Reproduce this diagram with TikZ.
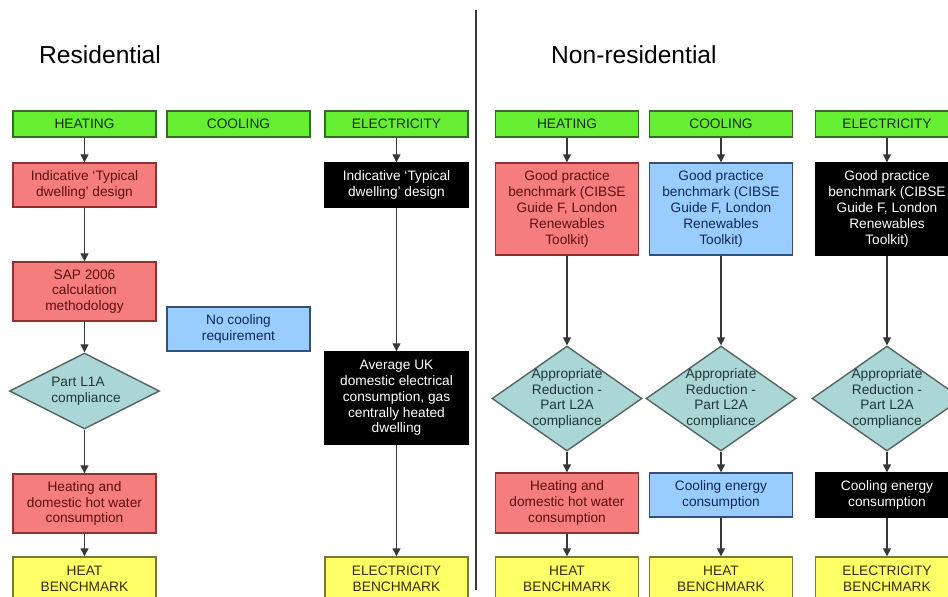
\documentclass[tikz,border=0pt]{standalone}
\usepackage{fontspec}
\setmainfont{Liberation Sans}
\usetikzlibrary{arrows.meta}
\usetikzlibrary{shapes.geometric}
\definecolor{hdgreen}{RGB}{102,238,51}
\definecolor{hdgreenln}{RGB}{55,105,40}
\definecolor{hdgreentx}{RGB}{15,45,15}
\definecolor{pink}{RGB}{245,125,125}
\definecolor{pinkln}{RGB}{140,50,50}
\definecolor{pinktx}{RGB}{95,15,15}
\definecolor{sky}{RGB}{153,204,255}
\definecolor{skyln}{RGB}{50,80,120}
\definecolor{skytx}{RGB}{15,40,90}
\definecolor{teal}{RGB}{170,214,214}
\definecolor{tealln}{RGB}{85,100,100}
\definecolor{tealtx}{RGB}{35,55,55}
\definecolor{lemon}{RGB}{255,255,102}
\definecolor{lemonln}{RGB}{120,120,60}
\definecolor{lemontx}{RGB}{55,45,15}
\definecolor{wire}{RGB}{55,55,55}
\tikzset{box/.style = {rectangle, draw, line width=0.8pt, inner sep=0pt,
                       minimum width=2.86cm, align=center,
                       font=\fontsize{7.8}{9}\selectfont},
         head/.style = {box, fill=hdgreen, draw=hdgreenln, text=hdgreentx,
                        minimum height=0.52cm},
         redbox/.style = {box, fill=pink, draw=pinkln, text=pinktx},
         bluebox/.style = {box, fill=sky, draw=skyln, text=skytx},
         blackbox/.style = {box, fill=black, draw=black, text=white},
         bench/.style = {box, fill=lemon, draw=lemonln, text=lemontx,
                         minimum height=0.88cm},
         decide/.style = {diamond, draw=tealln, fill=teal, line width=0.8pt,
                          inner sep=0pt, minimum width=3cm},
         decidetext/.style = {inner sep=0pt, text=tealtx,
                              font=\fontsize{7.8}{9}\selectfont},
         title/.style = {font=\fontsize{14}{16}\selectfont, anchor=base west},
         flow/.style = {draw=wire, line width=0.8pt,
                        -{Triangle[width=4.5pt,length=4.5pt]}}}

\begin{document}
\begin{tikzpicture}[x=0.02cm, y=-0.02cm]
      \clip (0,0) rectangle (948,596);
      \node [title] (restitle) at (33,63) {Residential};
      \node [title] (nontitle) at (545,63) {Non-residential};
      \coordinate (septop) at (476,10);
      \coordinate (sepbot) at (476,590);
      \draw [wire, line width=0.9pt] (septop) -- (sepbot);

      % residential
      \node [head] (rheat) at (84.5,124) {HEATING};
      \node [head] (rcool) at (238.5,124) {COOLING};
      \node [head] (relec) at (396.5,124) {ELECTRICITY};

      \node [redbox, minimum height=0.88cm] (rheat1) at (84.5,185)
            {Indicative ‘Typical\\dwelling’ design};
      \node [redbox, minimum height=1.18cm] (rheat2) at (84.5,291.5)
            {SAP 2006\\calculation\\methodology};
      \node [decide, minimum height=1.52cm] (rheat3) at (84.5,391) {};
      \node [decidetext, align=left] (rheat3t) at (86,391) {Part L1A\\compliance};
      \node [redbox, minimum height=1.18cm] (rheat4) at (84.5,503.5)
            {Heating and\\domestic hot water\\consumption};
      \node [bench] (rheat5) at (84.5,579) {HEAT\\BENCHMARK};

      \node [bluebox, minimum height=0.88cm] (rcool1) at (238.5,329)
            {No cooling\\requirement};

      \node [blackbox, minimum height=0.88cm] (relec1) at (396.5,185)
            {Indicative ‘Typical\\dwelling’ design};
      \node [blackbox, minimum height=1.84cm] (relec2) at (396.5,398)
            {Average UK\\domestic electrical\\consumption, gas\\centrally heated\\dwelling};
      \node [bench] (relec3) at (396.5,579) {ELECTRICITY\\BENCHMARK};

      \foreach \a/\b in {rheat/rheat1, rheat1/rheat2, rheat2/rheat3, rheat3/rheat4,
                         rheat4/rheat5, relec/relec1, relec1/relec2, relec2/relec3}
        \draw [flow] (\a) -- (\b);

      % non-residential
      \foreach \c/\x/\s/\h in {heat/567/redbox/HEATING, cool/721/bluebox/COOLING,
                               elec/887/blackbox/ELECTRICITY} {
        \node [head] (n\c) at (\x,124) {\h};
        \node [\s, minimum height=1.84cm] (n\c1) at (\x,209)
              {Good practice\\benchmark (CIBSE\\Guide F, London\\Renewables\\Toolkit)};
        \node [decide, minimum height=2.1cm] (n\c2) at (\x,398.5) {};
        \node [decidetext, align=center] (n\c2t) at (\x,398.5)
              {Appropriate\\Reduction -\\Part L2A\\compliance};
      }
      \node [redbox, minimum height=1.2cm] (nheat3) at (567,503)
            {Heating and\\domestic hot water\\consumption};
      \node [bluebox, minimum height=0.88cm] (ncool3) at (721,495)
            {Cooling energy\\consumption};
      \node [blackbox, minimum height=0.88cm] (nelec3) at (887,495)
            {Cooling energy\\consumption};
      \node [bench] (nheat4) at (567,579) {HEAT\\BENCHMARK};
      \node [bench] (ncool4) at (721,579) {HEAT\\BENCHMARK};
      \node [bench] (nelec4) at (887,579) {ELECTRICITY\\BENCHMARK};

      \foreach \c in {heat,cool,elec} {
        \draw [flow] (n\c) -- (n\c1);
        \draw [flow] (n\c1) -- (n\c2);
        \draw [flow] (n\c2) -- (n\c3);
        \draw [flow] (n\c3) -- (n\c4);
      }
    \end{tikzpicture}
\end{document}
